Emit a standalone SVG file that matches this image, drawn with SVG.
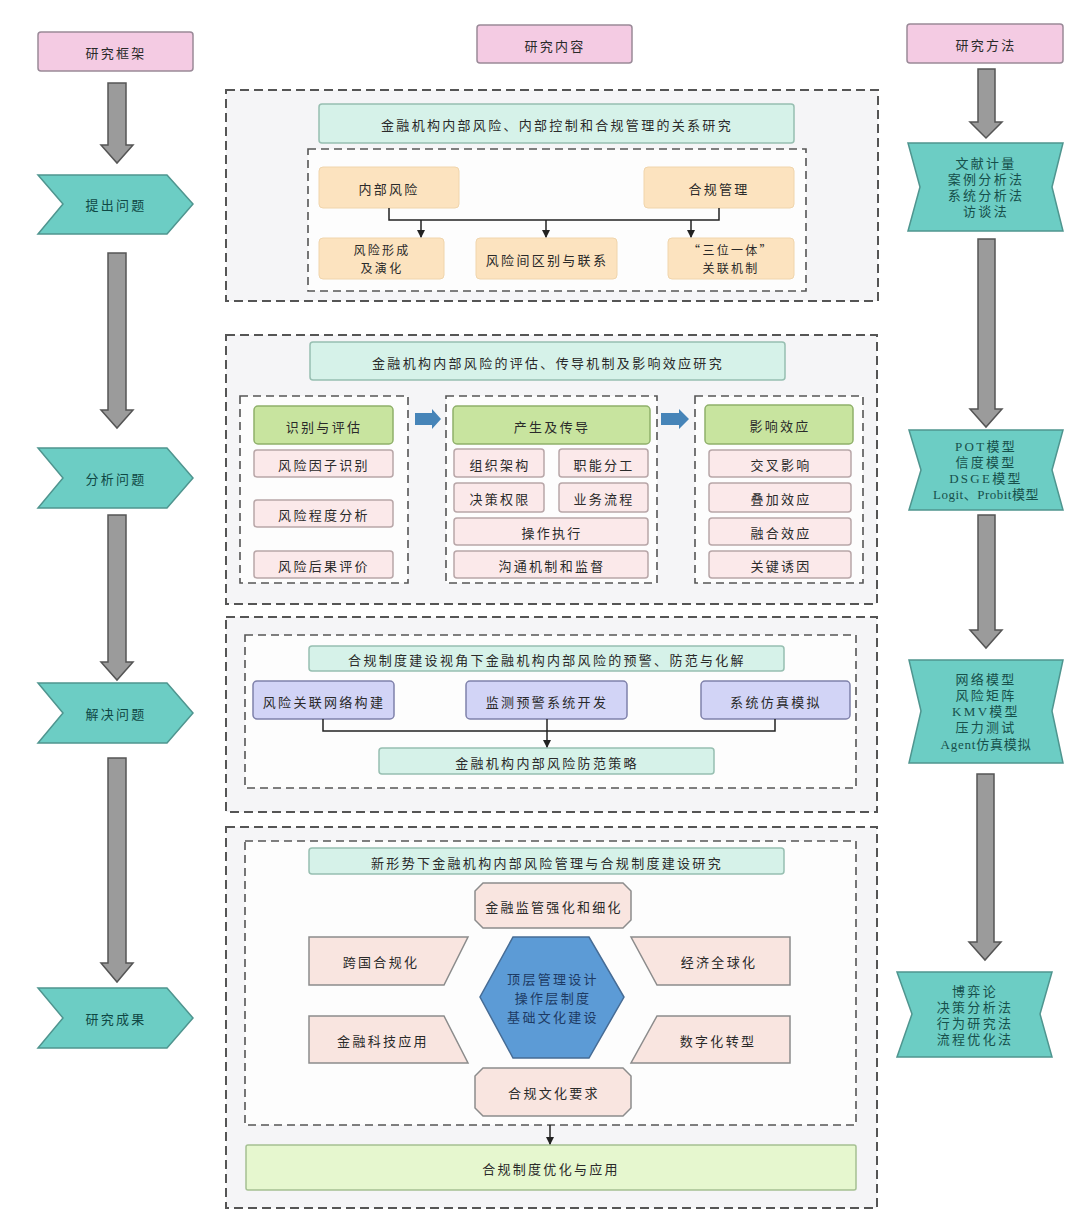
<svg xmlns="http://www.w3.org/2000/svg" width="1080" height="1211" viewBox="0 0 1080 1211">
<style>
text{font-family:"Noto Sans CJK SC","Noto Sans",sans-serif;font-size:13px;fill:#2a2a2a;letter-spacing:2.3px;text-anchor:middle;dominant-baseline:central}
.two{font-size:12px}
.hdr{fill:#f4cbe3;stroke:#9a8a98;stroke-width:1.5}
.chev{fill:#6ccdc4;stroke:#4f958f;stroke-width:1.5}
.chev-t{fill:#0f4844}
.rt{font-family:"Liberation Serif","Noto Sans CJK SC",serif;fill:#17504b}
.garrow{fill:#9b9b9b;stroke:#555;stroke-width:1.5}
.sec{fill:#f5f5f7;stroke:#555;stroke-width:2;stroke-dasharray:9 5}
.inner{fill:#fdfdfd;stroke:#555;stroke-width:1.6;stroke-dasharray:8 5}
.title{fill:#d6f2e9;stroke:#97bfb1;stroke-width:1.5}
.peach{fill:#fce3bf;stroke:#f0d5ac;stroke-width:1}
.green{fill:#c8e49f;stroke:#8fb06a;stroke-width:1.5}
.pinkb{fill:#fbe9ea;stroke:#b8a6a8;stroke-width:1.5}
.lav{fill:#d2d4f6;stroke:#7f81aa;stroke-width:1.5}
.s4{fill:#f9e5e0;stroke:#8c8c8c;stroke-width:1.5}
.hex{fill:#5c9bd6;stroke:#466c95;stroke-width:1.5}
.final{fill:#e6f7cf;stroke:#a5c093;stroke-width:1.5}
.barrow{fill:#4684b8}
.conn{fill:none;stroke:#222;stroke-width:1.5}
</style>
<defs>
<marker id="ah" markerWidth="8" markerHeight="8" refX="7" refY="4" orient="auto" markerUnits="userSpaceOnUse">
<path d="M0,0 L8,4 L0,8 Z" fill="#222"/>
</marker>
</defs>
<rect x="0" y="0" width="1080" height="1211" fill="#ffffff"/>

<!-- section backgrounds -->
<g id="sections">
<rect class="sec" x="226" y="90" width="652" height="211"/>
<rect class="inner" x="308" y="149" width="498" height="142"/>
<rect class="sec" x="226" y="335" width="651" height="269"/>
<rect class="inner" x="240" y="396" width="168" height="187"/>
<rect class="inner" x="446" y="396" width="211" height="187"/>
<rect class="inner" x="695" y="396" width="168" height="187"/>
<rect class="sec" x="226" y="617" width="651" height="195"/>
<rect class="inner" x="245" y="635" width="611" height="153"/>
<rect class="sec" x="226" y="827" width="651" height="381"/>
<rect class="inner" x="245" y="841" width="611" height="284"/>
</g>

<!-- left column -->
<g id="hdr-framework"><rect class="hdr" x="38" y="32" width="155" height="39" rx="3"/><text x="116" y="52">研究框架</text></g>
<g id="hdr-content"><rect class="hdr" x="477" y="25" width="155" height="38" rx="3"/><text x="555" y="45">研究内容</text></g>
<g id="hdr-method"><rect class="hdr" x="907" y="24" width="156" height="39" rx="3"/><text x="986" y="44">研究方法</text></g>

<g id="left-1"><polygon class="chev" points="38,175 167,175 193,204 167,234 38,234 63,204"/><text class="chev-t" x="116" y="204">提出问题</text></g>
<g id="left-2"><polygon class="chev" points="38,448 167,448 193,478 167,508 38,508 63,478"/><text class="chev-t" x="116" y="478">分析问题</text></g>
<g id="left-3"><polygon class="chev" points="38,683 167,683 193,713 167,743 38,743 63,713"/><text class="chev-t" x="116" y="713">解决问题</text></g>
<g id="left-4"><polygon class="chev" points="38,988 167,988 193,1018 167,1048 38,1048 63,1018"/><text class="chev-t" x="116" y="1018">研究成果</text></g>

<!-- right column -->
<g id="right-1"><polygon class="chev" points="908,143 1063,143 1052,187 1063,231 908,231 920,187"/>
<text class="rt" x="986" y="163">文献计量</text><text class="rt" x="986" y="179">案例分析法</text><text class="rt" x="986" y="195">系统分析法</text><text class="rt" x="986" y="211">访谈法</text></g>
<g id="right-2"><polygon class="chev" points="909,430 1063,430 1052,470 1063,510 909,510 921,470"/>
<text class="rt" x="986" y="446">POT模型</text><text class="rt" x="986" y="462">信度模型</text><text class="rt" x="986" y="478">DSGE模型</text><text class="rt" x="986" y="494" style="letter-spacing:0.5px">Logit、Probit模型</text></g>
<g id="right-3"><polygon class="chev" points="909,660 1063,660 1052,711 1063,763 909,763 921,711"/>
<text class="rt" x="986" y="679">网络模型</text><text class="rt" x="986" y="695">风险矩阵</text><text class="rt" x="986" y="711">KMV模型</text><text class="rt" x="986" y="727">压力测试</text><text class="rt" x="986" y="744" style="letter-spacing:0.8px">Agent仿真模拟</text></g>
<g id="right-4"><polygon class="chev" points="897,972 1052,972 1040,1014 1052,1057 897,1057 912,1014"/>
<text class="rt" x="975" y="991">博弈论</text><text class="rt" x="975" y="1007">决策分析法</text><text class="rt" x="975" y="1023">行为研究法</text><text class="rt" x="975" y="1039">流程优化法</text></g>

<!-- section 1 -->
<g id="s1-title"><rect class="title" x="319" y="104" width="475" height="39" rx="3"/><text x="557" y="124">金融机构内部风险、内部控制和合规管理的关系研究</text></g>
<g id="s1-risk"><rect class="peach" x="319" y="167" width="140" height="41" rx="4"/><text x="389" y="188">内部风险</text></g>
<g id="s1-comp"><rect class="peach" x="644" y="167" width="150" height="41" rx="4"/><text x="719" y="188">合规管理</text></g>
<g id="s1-form"><rect class="peach" x="319" y="238" width="125" height="41" rx="4"/><text class="two" x="382" y="249.5">风险形成</text><text class="two" x="382" y="267.5">及演化</text></g>
<g id="s1-diff"><rect class="peach" x="476" y="238" width="141" height="41" rx="4"/><text x="547" y="259">风险间区别与联系</text></g>
<g id="s1-tri"><rect class="peach" x="668" y="238" width="126" height="41" rx="4"/><text class="two" x="731" y="249.5">“三位一体”</text><text class="two" x="731" y="267.5">关联机制</text></g>

<!-- section 2 -->
<g id="s2-title"><rect class="title" x="310" y="342" width="475" height="38" rx="3"/><text x="548" y="362">金融机构内部风险的评估、传导机制及影响效应研究</text></g>
<g id="s2-a-head"><rect class="green" x="254" y="406" width="139" height="38" rx="4"/><text x="324" y="426">识别与评估</text></g>
<g id="s2-a1"><rect class="pinkb" x="254" y="450" width="139" height="27" rx="3"/><text x="324" y="464">风险因子识别</text></g>
<g id="s2-a2"><rect class="pinkb" x="254" y="500" width="139" height="27" rx="3"/><text x="324" y="514">风险程度分析</text></g>
<g id="s2-a3"><rect class="pinkb" x="254" y="551" width="139" height="27" rx="3"/><text x="324" y="565">风险后果评价</text></g>
<g id="s2-b-head"><rect class="green" x="453" y="406" width="197" height="38" rx="4"/><text x="552" y="426">产生及传导</text></g>
<g id="s2-b1"><rect class="pinkb" x="454" y="449" width="90" height="28" rx="3"/><text x="500" y="464">组织架构</text></g>
<g id="s2-b2"><rect class="pinkb" x="559" y="449" width="89" height="28" rx="3"/><text x="604" y="464">职能分工</text></g>
<g id="s2-b3"><rect class="pinkb" x="454" y="483" width="90" height="29" rx="3"/><text x="500" y="498">决策权限</text></g>
<g id="s2-b4"><rect class="pinkb" x="559" y="483" width="89" height="29" rx="3"/><text x="604" y="498">业务流程</text></g>
<g id="s2-b5"><rect class="pinkb" x="454" y="518" width="194" height="27" rx="3"/><text x="552" y="532">操作执行</text></g>
<g id="s2-b6"><rect class="pinkb" x="454" y="551" width="194" height="27" rx="3"/><text x="552" y="565">沟通机制和监督</text></g>
<g id="s2-c-head"><rect class="green" x="705" y="405" width="148" height="39" rx="4"/><text x="780" y="425">影响效应</text></g>
<g id="s2-c1"><rect class="pinkb" x="709" y="450" width="142" height="27" rx="3"/><text x="781" y="464">交叉影响</text></g>
<g id="s2-c2"><rect class="pinkb" x="709" y="483" width="142" height="29" rx="3"/><text x="781" y="498">叠加效应</text></g>
<g id="s2-c3"><rect class="pinkb" x="709" y="518" width="142" height="27" rx="3"/><text x="781" y="532">融合效应</text></g>
<g id="s2-c4"><rect class="pinkb" x="709" y="551" width="142" height="27" rx="3"/><text x="781" y="565">关键诱因</text></g>

<!-- section 3 -->
<g id="s3-title"><rect class="title" x="309" y="646" width="475" height="25" rx="3"/><text x="547" y="659">合规制度建设视角下金融机构内部风险的预警、防范与化解</text></g>
<g id="s3-net"><rect class="lav" x="253" y="681" width="141" height="38" rx="4"/><text x="324" y="701">风险关联网络构建</text></g>
<g id="s3-mon"><rect class="lav" x="466" y="681" width="161" height="38" rx="4"/><text x="547" y="701">监测预警系统开发</text></g>
<g id="s3-sim"><rect class="lav" x="701" y="681" width="149" height="38" rx="4"/><text x="776" y="701">系统仿真模拟</text></g>
<g id="s3-strat"><rect class="title" x="379" y="748" width="335" height="26" rx="3"/><text x="547" y="762">金融机构内部风险防范策略</text></g>

<!-- section 4 -->
<g id="s4-title"><rect class="title" x="309" y="848" width="475" height="26" rx="3"/><text x="547" y="862">新形势下金融机构内部风险管理与合规制度建设研究</text></g>
<g id="s4-top"><polygon class="s4" points="483,883 623,883 631,891 631,920 623,928 483,928 475,920 475,891"/><text x="554" y="906">金融监管强化和细化</text></g>
<g id="s4-cross"><polygon class="s4" points="309,937 468,937 444,985 309,985"/><text x="381" y="961">跨国合规化</text></g>
<g id="s4-glob"><polygon class="s4" points="631,937 790,937 790,985 657,985"/><text x="719" y="961">经济全球化</text></g>
<g id="s4-hex"><polygon class="hex" points="513,937 589,937 624,997 589,1058 513,1058 480,997"/>
<text x="553" y="978" style="fill:#1d3a63">顶层管理设计</text><text x="553" y="997" style="fill:#1d3a63">操作层制度</text><text x="553" y="1016" style="fill:#1d3a63">基础文化建设</text></g>
<g id="s4-fin"><polygon class="s4" points="309,1016 444,1016 468,1063 309,1063"/><text x="383" y="1040">金融科技应用</text></g>
<g id="s4-dig"><polygon class="s4" points="657,1016 790,1016 790,1063 631,1063"/><text x="718" y="1040">数字化转型</text></g>
<g id="s4-cult"><polygon class="s4" points="483,1068 623,1068 631,1076 631,1108 623,1116 483,1116 475,1108 475,1076"/><text x="554" y="1092">合规文化要求</text></g>
<g id="s4-final"><rect class="final" x="246" y="1145" width="610" height="45" rx="2"/><text x="551" y="1168">合规制度优化与应用</text></g>

<!-- connectors -->
<g id="connectors">
<path class="garrow" d="M108,83 H126 V145 H133 L117,163 L101,145 H108 Z"/>
<path class="garrow" d="M108,253 H126 V410 H133 L117,428 L101,410 H108 Z"/>
<path class="garrow" d="M108,515 H126 V662 H133 L117,680 L101,662 H108 Z"/>
<path class="garrow" d="M108,758 H126 V963 H133 L117,982 L101,963 H108 Z"/>
<path class="garrow" d="M978,69 H995 V122 H1002 L986,138 L970,122 H978 Z"/>
<path class="garrow" d="M978,239 H995 V409 H1002 L986,427 L970,409 H978 Z"/>
<path class="garrow" d="M978,515 H995 V630 H1002 L986,648 L970,630 H978 Z"/>
<path class="garrow" d="M977,774 H994 V942 H1001 L985,960 L969,942 H977 Z"/>
<path class="barrow" d="M415,413 H432 V409 L441,419 L432,429 V425 H415 Z"/>
<path class="barrow" d="M661,413 H679 V409 L689,419 L679,429 V425 H661 Z"/>
<path class="conn" d="M389,208 V220 H719 V208"/>
<path class="conn" d="M421,220 V237" marker-end="url(#ah)"/>
<path class="conn" d="M546,220 V237" marker-end="url(#ah)"/>
<path class="conn" d="M691,220 V237" marker-end="url(#ah)"/>
<path class="conn" d="M323,719 V731 H775 V719"/>
<path class="conn" d="M547,719 V747" marker-end="url(#ah)"/>
<path class="conn" d="M550,1125 V1144" marker-end="url(#ah)"/>
</g>
</svg>
